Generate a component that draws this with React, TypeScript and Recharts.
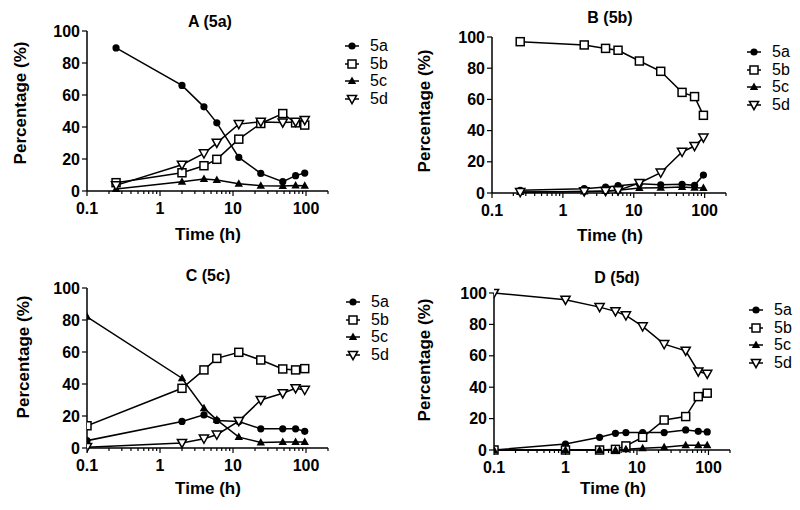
import React from 'react';
import { LineChart, Line, XAxis, YAxis } from 'recharts';

const FONT = '"Liberation Sans", Arial, Helvetica, sans-serif';

// time points (h)
const timesA = [0.25, 2, 4, 6, 12, 24, 48, 72, 96];
const timesB = [0.25, 2, 4, 6, 12, 24, 48, 72, 96];
const timesC = [0.1, 2, 4, 6, 12, 24, 48, 72, 96];
const timesD = [0.1, 1, 3, 5, 7, 12, 24, 48, 72, 96];

// panel A (5a)
const a5a = [89.4, 66, 52.6, 42.6, 21, 11, 5.8, 9.6, 11.2];
const a5b = [5.2, 11.4, 15.8, 19.8, 32.4, 42.2, 48.4, 42.6, 41.2];
const a5c = [1.2, 5.8, 7.5, 6.9, 4.6, 3.3, 3.1, 3.5, 3.3];
const a5d = [3.5, 16.4, 23.5, 30.1, 41.8, 43.2, 42.8, 43.2, 44.3];

// panel B (5b)
const b5a = [1.7, 2.8, 3.8, 4.7, 6, 5.3, 5.6, 4.9, 11.5];
const b5b = [97, 94.9, 92.7, 91.5, 84.6, 78, 64.5, 61.8, 49.8];
const b5c = [0.6, 0.9, 1.3, 1.7, 3.2, 3.4, 3.8, 3.4, 3.2];
const b5d = [0.5, 1, 1.2, 1.7, 6.4, 13, 26.3, 30.1, 35.5];

// panel C (5c)
const c5a = [4.6, 16.6, 20.7, 17.2, 16.6, 12, 12, 12, 10.4];
const c5b = [13.9, 37.3, 48.8, 56, 59.8, 55, 49.4, 48.8, 49.6];
const c5c = [82, 43.6, 24.9, 17.6, 6.8, 3.5, 3.7, 3.7, 3.7];
const c5d = [0.5, 3.1, 5.8, 8.3, 16.8, 30, 34.2, 37.3, 36.3];

// panel D (5d)
const d5a = [0, 3.8, 8.1, 10.6, 11.1, 11.1, 11.1, 12.8, 11.9, 11.5];
const d5b = [0, 0, 0, 0.4, 2.6, 8.1, 19.1, 21.3, 34, 36.2];
const d5c = [0, 0, 0, 0, 0.4, 1.1, 1.7, 3, 3, 3];
const d5d = [100, 95.7, 91, 88.3, 85.7, 78.7, 67.4, 63.2, 50, 48.5];

const seriesNames = ['5a', '5b', '5c', '5d'];
const yTicks = [0, 20, 40, 60, 80, 100];
const xMajor = [0.1, 1, 10, 100];
const xTicks = [
  0.1, 0.2, 0.3, 0.4, 0.5, 0.6, 0.7, 0.8, 0.9,
  1, 2, 3, 4, 5, 6, 7, 8, 9,
  10, 20, 30, 40, 50, 60, 70, 80, 90,
  100, 200,
];

const Marker = ({ cx, cy, kind }: any) => {
  if (cx == null || cy == null) return null;
  if (kind === '5a') return <circle cx={cx} cy={cy} r={3.6} fill="#000" />;
  if (kind === '5b')
    return <rect x={cx - 4} y={cy - 4} width={8} height={8} fill="#fff" stroke="#000" strokeWidth={1.5} />;
  if (kind === '5c')
    return <path d={`M${cx},${cy - 4.5} L${cx + 4.2},${cy + 3} L${cx - 4.2},${cy + 3} Z`} fill="#000" />;
  return (
    <path
      d={`M${cx - 4.6},${cy - 3.6} L${cx + 4.6},${cy - 3.6} L${cx},${cy + 4.6} Z`}
      fill="#fff"
      stroke="#000"
      strokeWidth={1.5}
    />
  );
};

const XTick = ({ x, y, payload }: any) => {
  const major = xMajor.includes(payload.value);
  return (
    <g>
      <line x1={x} x2={x} y1={y} y2={y + (major ? 5 : 3)} stroke="#000" strokeWidth={1.2} />
      {major && (
        <text x={x} y={y + 23} textAnchor="middle" fontSize={16} fontWeight="bold" fontFamily={FONT} fill="#000">
          {payload.value}
        </text>
      )}
    </g>
  );
};

const CW = 400;
const CH = 255;
const XH = 30;

const Panel = ({ left, top, plot, times, values, title, titlePos, xLabelPos, yLabelPos, legendPos }: any) => {
  const data = times.map((t: number, i: number) => ({
    t,
    s0: values[0][i],
    s1: values[1][i],
    s2: values[2][i],
    s3: values[3][i],
  }));
  const margin = { top: plot.y0, right: CW - plot.x1, bottom: CH - plot.y1 - XH, left: 0 };
  const txt = { position: 'absolute' as const, fontFamily: FONT, color: '#000', whiteSpace: 'nowrap' as const };
  return (
    <>
      <div style={{ position: 'absolute', left, top }}>
        <LineChart width={CW} height={CH} data={data} margin={margin}>
          <XAxis
            dataKey="t"
            type="number"
            scale="log"
            domain={[0.1, 200]}
            ticks={xTicks}
            interval={0}
            allowDataOverflow
            tickSize={0}
            tickMargin={0}
            tickLine={false}
            tick={<XTick />}
            height={XH}
            axisLine={{ stroke: '#000', strokeWidth: 1.5 }}
          />
          <YAxis
            type="number"
            domain={[0, 100]}
            ticks={yTicks}
            interval={0}
            width={plot.x0}
            tickSize={5}
            tickMargin={2}
            tickLine={{ stroke: '#000', strokeWidth: 1.2 }}
            axisLine={{ stroke: '#000', strokeWidth: 1.5 }}
            tick={{ fill: '#000', fontSize: 16, fontWeight: 'bold', fontFamily: FONT }}
          />
          {seriesNames.map((name, k) => (
            <Line
              key={name}
              dataKey={`s${k}`}
              name={name}
              stroke="#000"
              strokeWidth={1.5}
              isAnimationActive={false}
              dot={(p: any) => <Marker key={`${name}-${p.index}`} cx={p.cx} cy={p.cy} kind={name} />}
              activeDot={false}
            />
          ))}
        </LineChart>
      </div>
      <div style={{ ...txt, left: titlePos[0], top: titlePos[1], transform: 'translate(-50%, -50%)', fontSize: 16, fontWeight: 'bold' }}>
        {title}
      </div>
      <div style={{ ...txt, left: xLabelPos[0], top: xLabelPos[1], transform: 'translate(-50%, -50%)', fontSize: 17, fontWeight: 'bold' }}>
        Time (h)
      </div>
      <div
        style={{
          ...txt,
          left: yLabelPos[0],
          top: yLabelPos[1],
          transform: 'translate(-50%, -50%) rotate(-90deg)',
          fontSize: 17,
          fontWeight: 'bold',
        }}
      >
        Percentage (%)
      </div>
      {seriesNames.map((name, k) => (
        <div key={name} style={{ ...txt, left: legendPos[0] - 10, top: legendPos[1] + k * 17.5 - 9, height: 18, display: 'flex', alignItems: 'center' }}>
          <svg width={20} height={18}>
            <line x1={3} x2={17} y1={9} y2={9} stroke="#000" strokeWidth={1.5} />
            <Marker cx={10} cy={9} kind={name} />
          </svg>
          <span style={{ fontSize: 16, marginLeft: 8, lineHeight: '18px' }}>{name}</span>
        </div>
      ))}
    </>
  );
};

export default function App() {
  return (
    <div style={{ position: 'absolute', left: 0, top: 0, width: 800, height: 510, background: '#fff', overflow: 'hidden' }}>
      <Panel
        left={0}
        top={0}
        plot={{ x0: 87, x1: 328, y0: 31, y1: 191 }}
        times={timesA}
        values={[a5a, a5b, a5c, a5d]}
        title="A (5a)"
        titlePos={[210, 22]}
        xLabelPos={[208, 235]}
        yLabelPos={[21, 103]}
        legendPos={[352, 46]}
      />
      <Panel
        left={400}
        top={0}
        plot={{ x0: 92, x1: 326, y0: 37, y1: 193 }}
        times={timesB}
        values={[b5a, b5b, b5c, b5d]}
        title="B (5b)"
        titlePos={[610, 18]}
        xLabelPos={[610, 236]}
        yLabelPos={[425, 111]}
        legendPos={[754, 52]}
      />
      <Panel
        left={0}
        top={250}
        plot={{ x0: 87, x1: 328, y0: 38, y1: 198 }}
        times={timesC}
        values={[c5a, c5b, c5c, c5d]}
        title="C (5c)"
        titlePos={[208, 276]}
        xLabelPos={[208, 489]}
        yLabelPos={[24, 357]}
        legendPos={[353, 302]}
      />
      <Panel
        left={400}
        top={250}
        plot={{ x0: 94, x1: 330, y0: 43, y1: 200 }}
        times={timesD}
        values={[d5a, d5b, d5c, d5d]}
        title="D (5d)"
        titlePos={[617, 278]}
        xLabelPos={[613, 489]}
        yLabelPos={[425, 360]}
        legendPos={[756, 310]}
      />
    </div>
  );
}
